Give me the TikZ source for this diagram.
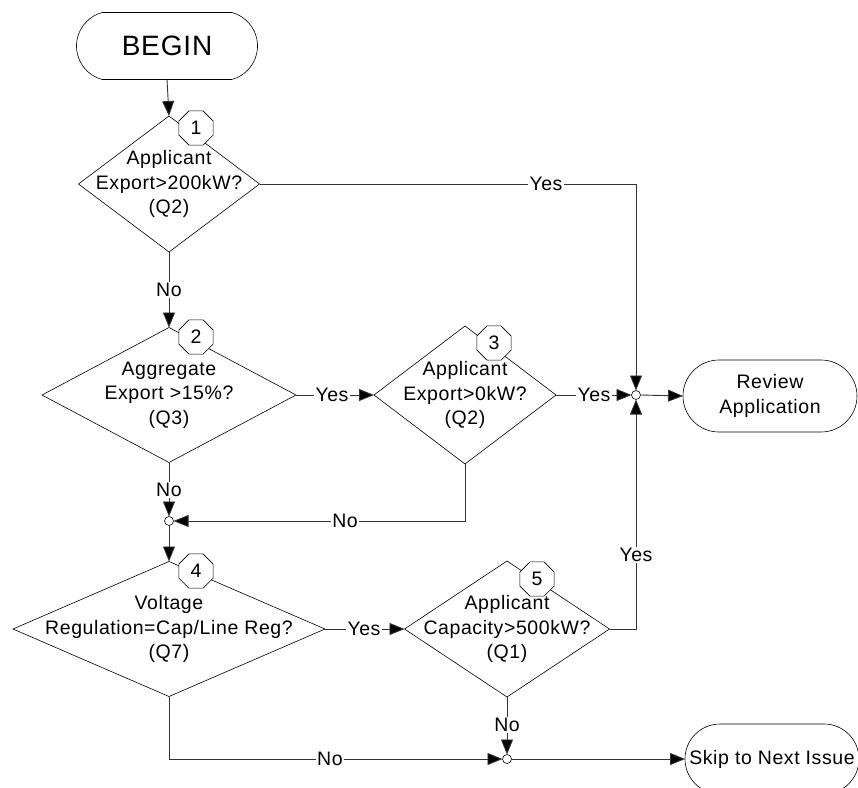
\documentclass[tikz,border=0pt]{standalone}
\usepackage{fontspec}
\setmainfont{Liberation Sans}[LetterSpace=3]
\usetikzlibrary{shapes.geometric,shapes.misc,arrows.meta}
\begin{document}
\begin{tikzpicture}[x=1pt,y=-1pt,
  dec/.style={diamond,draw,line width=0.6pt,inner sep=0pt,outer sep=0pt,fill=white},
  txt/.style={align=center,font=\fontsize{19.5}{24.5}\selectfont,inner sep=0pt},
  num/.style={regular polygon,regular polygon sides=8,minimum size=37,draw,line width=0.6pt,fill=white,inner sep=0pt,font=\fontsize{19.5}{22}\selectfont},
  term/.style={rounded rectangle,draw,line width=0.6pt,inner sep=0pt,outer sep=0pt},
  junc/.style={circle,draw,fill=white,inner sep=0pt,outer sep=0pt,minimum size=9,line width=0.6pt},
  conn/.style={draw=black!80,line width=0.9pt},
  arr/.style={conn,-{Triangle[length=15pt,width=12pt,fill=black]}},
  lab/.style={fill=white,inner sep=1.5pt,font=\fontsize{19.5}{22}\selectfont}]
\useasboundingbox (0,0) rectangle (858,787);
\clip (0,0) rectangle (858,787);

% terminals
\node[term,minimum width=181,minimum height=67,rounded rectangle arc length=150] (begin) at (167,46) {};
\node[inner sep=0pt,font=\fontsize{28}{30}\selectfont] (begint) at (begin) {BEGIN};
\node[term,minimum width=174,minimum height=72] (rev) at (770,396) {};
\node[txt] (revt) at (rev) {Review\\Application};
\node[term,minimum width=174,minimum height=70] (skip) at (772,759) {};
\node[txt] (skipt) at (skip) {Skip to Next Issue};

% decisions
\node[dec,minimum width=181,minimum height=136] (d1) at (169,184) {};
\node[dec,minimum width=254,minimum height=135] (d2) at (169,395) {};
\node[dec,minimum width=182,minimum height=138] (d3) at (465,395) {};
\node[dec,minimum width=312,minimum height=135] (d4) at (169,629) {};
\node[dec,minimum width=205,minimum height=136] (d5) at (507,629) {};

\node[txt] (t1) at (d1) {Applicant\\Export>200kW?\\(Q2)};
\node[txt] (t2) at (d2) {Aggregate\\Export >15\%?\\(Q3)};
\node[txt] (t3) at (d3) {Applicant\\Export>0kW?\\(Q2)};
\node[txt] (t4) at (d4) {Voltage\\Regulation=Cap/Line Reg?\\(Q7)};
\node[txt] (t5) at (d5) {Applicant\\Capacity>500kW?\\(Q1)};

% number markers
\node[num] (n1) at (196,128) {1};
\node[num] (n2) at (196,337) {2};
\node[num] (n3) at (494,343) {3};
\node[num] (n4) at (196,571) {4};
\node[num] (n5) at (537,579) {5};

% junctions
\node[junc] (j1) at (636,395) {};
\node[junc] (j2) at (169,521) {};
\node[junc] (j3) at (507,759) {};

% connectors
\draw[arr] (begin.south) -- (d1.north);
\draw[arr] (d1.east) -- (d1.east -| j1) -- (j1.north);
\draw[arr] (d1.south) -- (d2.north);
\draw[arr] (d2.east) -- (d3.west);
\draw[arr] (d3.east) -- (j1.west);
\draw[arr] (j1.east) -- (rev.west);
\draw[arr] (d2.south) -- (j2.north);
\draw[arr] (d3.south) |- (j2.east);
\draw[arr] (j2.south) -- (d4.north);
\draw[arr] (d4.east) -- (d5.west);
\draw[arr] (d5.east) -| (j1.south);
\draw[arr] (d5.south) -- (j3.north);
\draw[arr] (d4.south) |- (j3.west);
\draw[arr] (j3.east) -- (skip.west);

% line labels
\node[lab] (l1) at (546,184) {Yes};
\node[lab] (l2) at (169,290) {No};
\node[lab] (l3) at (332,395) {Yes};
\node[lab] (l4) at (594,395) {Yes};
\node[lab] (l5) at (169,490) {No};
\node[lab] (l6) at (345,521) {No};
\node[lab] (l7) at (636,555) {Yes};
\node[lab] (l8) at (364,629) {Yes};
\node[lab] (l9) at (507,725) {No};
\node[lab] (l10) at (330,759) {No};
\end{tikzpicture}
\end{document}
